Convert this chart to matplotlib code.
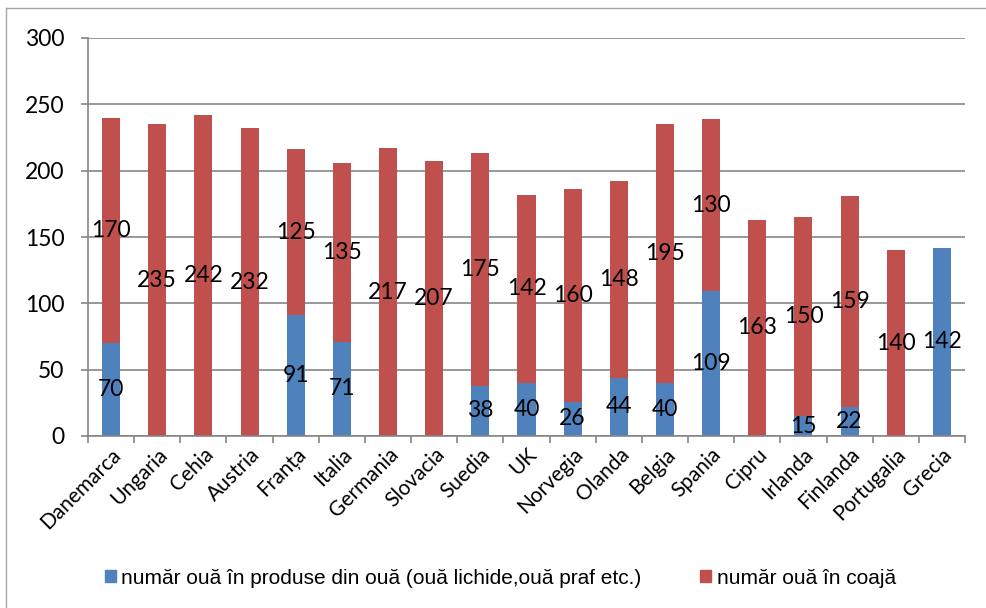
import numpy as np
import matplotlib
matplotlib.use('Agg')
import matplotlib.pyplot as plt
from matplotlib.patches import Patch
from matplotlib.lines import Line2D

tari = ['Danemarca', 'Ungaria', 'Cehia', 'Austria', 'Franța', 'Italia', 'Germania',
        'Slovacia', 'Suedia', 'UK', 'Norvegia', 'Olanda', 'Belgia', 'Spania', 'Cipru',
        'Irlanda', 'Finlanda', 'Portugalia', 'Grecia']
produse = [70, 0, 0, 0, 91, 71, 0, 0, 38, 40, 26, 44, 40, 109, 0, 15, 22, 0, 142]
coaja = [170, 235, 242, 232, 125, 135, 217, 207, 175, 142, 160, 148, 195, 130, 163, 150, 159, 140, 0]

albastru = '#4f81bd'
rosu = '#c0504d'
gri = '#868686'

fig = plt.figure(figsize=(9.86, 6.08), dpi=100)
ax = fig.add_axes([88/986, 1-436/608, (965-88)/986, (436-38)/608])

x = np.arange(len(tari))
w = 0.39
b1 = ax.bar(x, produse, w, color=albastru, zorder=2)
b2 = ax.bar(x, coaja, w, bottom=produse, color=rosu, zorder=2)

# etichete de date (fara zerouri)
for bars, vals in [(b1, produse), (b2, coaja)]:
    lab = [str(v) if v > 0 else '' for v in vals]
    ax.bar_label(bars, labels=lab, label_type='center', fontsize=16.5,
                 family='Lato', color='black', zorder=3)

ax.set_xlim(-0.5, len(tari) - 0.5)
ax.set_ylim(0, 300)
ax.set_yticks(range(0, 301, 50))
ax.yaxis.grid(True, color=gri, linewidth=1.2, zorder=0)
ax.set_axisbelow(True)

ax.set_xticks(x)
ax.set_xticklabels(tari, rotation=45, ha='right', rotation_mode='anchor',
                   fontsize=15, family='Lato')
ax.tick_params(axis='x', length=0, pad=6)
ax.set_xticks(np.arange(-0.5, len(tari), 1), minor=True)
ax.tick_params(axis='x', which='minor', length=5, color=gri, width=1.2)
ax.tick_params(axis='y', length=5, color=gri, width=1.2, pad=12)
for t in ax.get_yticklabels():
    t.set_family('Lato')
    t.set_fontsize(16.5)

for s in ['top', 'right']:
    ax.spines[s].set_visible(False)
for s in ['left', 'bottom']:
    ax.spines[s].set_color(gri)
    ax.spines[s].set_linewidth(1.2)

handles = [Patch(color=albastru), Patch(color=rosu)]
fig.legend(handles, ['număr ouă în produse din ouă (ouă lichide,ouă praf etc.)',
                     'număr ouă în coajă'],
           loc='center left', bbox_to_anchor=(86/986, 1-578/608), ncol=2,
           frameon=False, prop={'family': 'Liberation Sans', 'size': 15},
           handlelength=0.55, handleheight=0.55, handletextpad=0.25, columnspacing=2.8)

# chenarul graficului
fig.add_artist(Line2D([6/986, 1], [1-8/608, 1-8/608], color='#a6a6a6', linewidth=1))
fig.add_artist(Line2D([6/986, 6/986], [0, 1-8/608], color='#a6a6a6', linewidth=1))

fig.savefig('out.png', dpi=100)
